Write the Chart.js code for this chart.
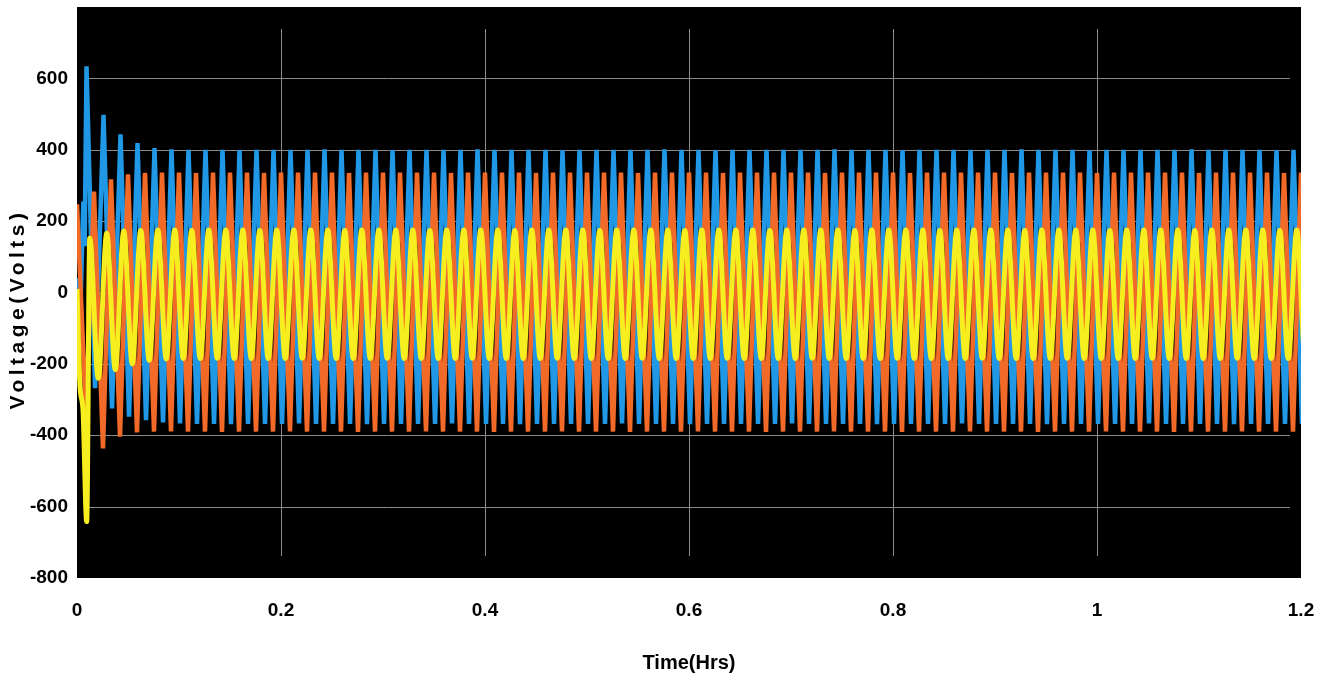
<!DOCTYPE html>
<html>
<head>
<meta charset="utf-8">
<title>Voltage(Volts) vs Time(Hrs)</title>
<script src="https://cdn.jsdelivr.net/npm/chart.js@4"></script>
<style>
  html, body { margin: 0; padding: 0; background: #fff; }
  #wrap { width: 1333px; height: 675px; }
</style>
</head>
<body>
<div id="wrap"><canvas id="voltChart"></canvas></div>
<script>
// One period of the waveform, in hrs (≈17 px on the time axis)
const CYCLE = 1 / 60;

// Tick labels
const xTickValues = [0, 0.2, 0.4, 0.6, 0.8, 1, 1.2];
const yTickValues = [-800, -600, -400, -200, 0, 200, 400, 600];

// Phase A (blue): start-up points, then one peak and one trough per cycle
const blueLeadT = [0, 0.0029, 0.0062, 0.0075];
const blueLeadV = [40, -90, 255, 130];
const bluePhaseHigh = 0.56;
const bluePhaseLow = 0.06;
const blueHigh = [
  634, 498, 443, 419, 405, 401, 400, 400, 400, 399, 400, 400,
  400, 400, 401, 400, 400, 400, 399, 400, 400, 400, 400, 401,
  400, 400, 400, 400, 399, 400, 400, 400, 400, 400, 401, 400,
  400, 399, 400, 400, 400, 400, 400, 400, 401, 400, 400, 400,
  399, 400, 400, 400, 400, 400, 400, 401, 400, 400, 400, 399,
  400, 400, 400, 400, 400, 401, 400, 400, 400, 400, 399, 400,
  400
];
const blueLow = [
  null, -268, -325, -348, -358, -364, -367, -368, -368, -369, -368, -368,
  -368, -367, -368, -368, -368, -369, -368, -368, -368, -368, -367, -368,
  -368, -368, -369, -368, -368, -368, -368, -368, -367, -368, -368, -368,
  -369, -368, -368, -368, -368, -368, -367, -368, -368, -368, -368, -369,
  -368, -368, -368, -368, -367, -368, -368, -368, -368, -369, -368, -368,
  -368, -368, -368, -367, -368, -368, -368, -368, -369, -368, -368, -368,
  -368
];

// Phase B (orange)
const orangeLeadT = [];
const orangeLeadV = [];
const orangePhaseHigh = 0.0;
const orangePhaseLow = 0.53;
const orangeHigh = [
  247, 283, 317, 331, 335, 336, 336, 335, 336, 336, 336, 335,
  336, 336, 336, 336, 335, 336, 336, 336, 336, 336, 335, 336,
  336, 336, 336, 335, 336, 336, 336, 336, 336, 335, 336, 336,
  336, 336, 335, 336, 336, 336, 336, 336, 335, 336, 336, 336,
  336, 335, 336, 336, 336, 336, 336, 335, 336, 336, 336, 336,
  335, 336, 336, 336, 336, 336, 335, 336, 336, 336, 336, 335,
  336
];
const orangeLow = [
  -343, -437, -404, -392, -390, -389, -390, -390, -391, -390, -390, -390,
  -389, -390, -390, -390, -391, -390, -390, -390, -389, -390, -390, -390,
  -391, -390, -390, -390, -389, -390, -390, -390, -391, -390, -390, -390,
  -389, -390, -390, -390, -391, -390, -390, -390, -389, -390, -390, -390,
  -391, -390, -390, -390, -389, -390, -390, -390, -391, -390, -390, -390,
  -389, -390, -390, -390, -391, -390, -390, -390, -389, -390, -390, -390,
  -390
];

// Phase C (yellow)
const yellowLeadT = [0, 0.0029, 0.0059, 0.0095];
const yellowLeadV = [10, -260, -330, -642];
const yellowPhaseHigh = 0.75;
const yellowPhaseLow = 0.25;
const yellowHigh = [
  152, 166, 172, 174, 175, 175, 174, 175, 175, 175, 174, 175,
  175, 175, 175, 174, 175, 175, 175, 175, 174, 175, 175, 175,
  175, 174, 175, 175, 175, 175, 174, 175, 175, 175, 175, 174,
  175, 175, 175, 175, 174, 175, 175, 175, 175, 174, 175, 175,
  175, 175, 174, 175, 175, 175, 175, 174, 175, 175, 175, 175,
  174, 175, 175, 175, 175, 174, 175, 175, 175, 175, 174, 175,
  175
];
const yellowLow = [
  null, -240, -216, -200, -190, -186, -185, -185, -184, -185, -185, -185,
  -185, -184, -185, -185, -185, -185, -184, -185, -185, -185, -185, -184,
  -185, -185, -185, -185, -184, -185, -185, -185, -185, -184, -185, -185,
  -185, -185, -184, -185, -185, -185, -185, -184, -185, -185, -185, -185,
  -184, -185, -185, -185, -185, -184, -185, -185, -185, -185, -184, -185,
  -185, -185, -185, -184, -185, -185, -185, -185, -184, -185, -185, -185,
  -185
];

// Put lead points and per-cycle extremes on the time axis
function buildSeries(leadT, leadV, highs, lows, phaseHigh, phaseLow) {
  const pts = leadT.map((t, i) => ({ x: t, y: leadV[i] }));
  highs.forEach((v, k) => { if (v !== null) pts.push({ x: (k + phaseHigh) * CYCLE, y: v }); });
  lows.forEach((v, k) => { if (v !== null) pts.push({ x: (k + phaseLow) * CYCLE, y: v }); });
  return pts.sort((a, b) => a.x - b.x);
}

const blueData = buildSeries(blueLeadT, blueLeadV, blueHigh, blueLow, bluePhaseHigh, bluePhaseLow);
const orangeData = buildSeries(orangeLeadT, orangeLeadV, orangeHigh, orangeLow, orangePhaseHigh, orangePhaseLow);
const yellowData = buildSeries(yellowLeadT, yellowLeadV, yellowHigh, yellowLow, yellowPhaseHigh, yellowPhaseLow);

const FONT = '"Liberation Sans", Arial, sans-serif';

// black plot area + grid lines that stop short of the edges (as in the figure)
const plotBackground = {
  id: 'plotBackground',
  beforeDraw(chart) {
    const { ctx, chartArea: a } = chart;
    ctx.save();
    ctx.fillStyle = '#000';
    ctx.fillRect(a.left, a.top, a.right - a.left, a.bottom - a.top);
    ctx.restore();
  },
  beforeDatasetsDraw(chart) {
    const { ctx, chartArea: a, scales } = chart;
    ctx.save();
    ctx.strokeStyle = '#8a8a8a';
    ctx.lineWidth = 1;
    ctx.beginPath();
    xTickValues.slice(1, -1).forEach(v => {
      const px = Math.round(scales.x.getPixelForValue(v)) + 0.5;
      ctx.moveTo(px, a.top + 22);
      ctx.lineTo(px, a.bottom - 22);
    });
    yTickValues.slice(1).forEach(v => {
      const py = Math.round(scales.y.getPixelForValue(v)) + 0.5;
      ctx.moveTo(a.left + 11, py);
      ctx.lineTo(a.right - 11, py);
    });
    ctx.stroke();
    ctx.restore();
  }
};

// rotated y title, spaced out like the original
const yTitle = {
  id: 'yTitle',
  afterDraw(chart) {
    const { ctx } = chart;
    ctx.save();
    ctx.translate(18, 309);
    ctx.rotate(-Math.PI / 2);
    ctx.font = 'bold 21px ' + FONT;
    if ('letterSpacing' in ctx) ctx.letterSpacing = '4.5px';
    ctx.fillStyle = '#000';
    ctx.textAlign = 'center';
    ctx.textBaseline = 'middle';
    ctx.fillText('Voltage(Volts)', 0, 0);
    ctx.restore();
  }
};

const ctx = document.getElementById('voltChart').getContext('2d');
new Chart(ctx, {
  type: 'line',
  data: {
    datasets: [
      { label: 'Phase C', data: yellowData, borderColor: '#f7ee1f', borderWidth: 5,
        cubicInterpolationMode: 'monotone' },
      { label: 'Phase B', data: orangeData, borderColor: '#f26a28', borderWidth: 4.5 },
      { label: 'Phase A', data: blueData, borderColor: '#2198e6', borderWidth: 4.5 }
    ]
  },
  options: {
    responsive: true,
    maintainAspectRatio: false,
    animation: false,
    events: [],
    elements: { point: { radius: 0 }, line: { tension: 0 } },
    layout: { padding: { top: 7, right: 32, bottom: 0, left: 0 } },
    plugins: { legend: { display: false }, tooltip: { enabled: false } },
    scales: {
      x: {
        type: 'linear',
        min: 0,
        max: 1.2,
        afterBuildTicks: (scale) => { scale.ticks = xTickValues.map(v => ({ value: v })); },
        afterFit: (scale) => { scale.height = 97; scale.paddingLeft = 0; scale.paddingRight = 0; },
        border: { display: false },
        grid: { display: false, drawTicks: false },
        ticks: {
          padding: 21,
          maxRotation: 0,
          color: '#000',
          callback: (v) => String(v),
          font: { family: FONT, size: 19, weight: 'bold' }
        },
        title: {
          display: true,
          text: 'Time(Hrs)',
          color: '#000',
          padding: { top: 7, bottom: 0 },
          font: { family: FONT, size: 20, weight: 'bold' }
        }
      },
      y: {
        min: -800,
        max: 800,
        afterBuildTicks: (scale) => { scale.ticks = yTickValues.map(v => ({ value: v })); },
        afterFit: (scale) => { scale.width = 77; scale.paddingTop = 0; scale.paddingBottom = 0; },
        border: { display: false },
        grid: { display: false, drawTicks: false },
        ticks: {
          padding: 9,
          color: '#000',
          callback: (v) => String(v),
          font: { family: FONT, size: 19, weight: 'bold' }
        }
      }
    }
  },
  plugins: [plotBackground, yTitle]
});
</script>
</body>
</html>
